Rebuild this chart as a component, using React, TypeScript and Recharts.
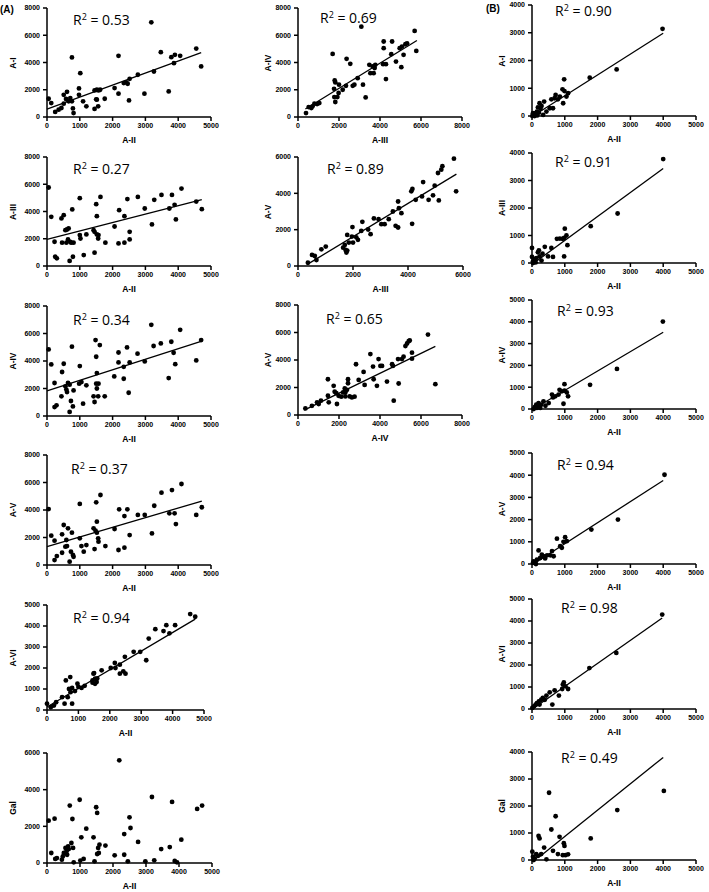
import React from "react";
import { ScatterChart, Scatter, XAxis, YAxis, ReferenceLine } from "recharts";

type Pair = [number, number];

// values, [x, y]
const aI_aII: Pair[] = [
  [50, 1340], [130, 1020], [250, 370], [355, 540], [440, 660], [510, 980], [510, 1630], [580, 1320],
  [610, 1850], [660, 1150], [710, 1390], [760, 1150], [760, 4370], [790, 630], [810, 290], [975, 2100],
  [975, 1630], [1015, 3220], [1100, 1150], [1200, 780], [1450, 590], [1450, 1950], [1500, 1300],
  [1520, 1270], [1560, 780], [1570, 1950], [1620, 2000], [1520, 2000], [1760, 1340], [2060, 2120],
  [2180, 4490], [2180, 1710], [2340, 2490], [2420, 2540], [2460, 2440], [2500, 1220], [2520, 2800],
  [2770, 3100], [2970, 1710], [3180, 6950], [3260, 3340], [3470, 4760], [3710, 1880], [3790, 4390],
  [3870, 3950], [3900, 4560], [4060, 4490], [4550, 5020], [4700, 3710],
];

const aIII_aII: Pair[] = [
  [50, 5760], [130, 3610], [230, 1780], [250, 680], [300, 560], [440, 3490], [510, 3730], [460, 1710],
  [560, 2630], [610, 2680], [660, 2760], [590, 1710], [640, 1950], [710, 1760], [740, 1710], [770, 4150],
  [810, 1710], [790, 680], [690, 370], [1000, 4980], [1000, 2270], [1020, 2020], [1120, 800], [1200, 2320],
  [1420, 2630], [1450, 2510], [1450, 980], [1500, 4540], [1520, 3660], [1520, 2320], [1560, 2020],
  [1570, 2270], [1630, 5070], [1780, 1710], [2060, 2900], [2180, 1660], [2200, 4100], [2360, 3660],
  [2360, 1710], [2450, 4910], [2520, 2510], [2520, 1950], [2770, 5070], [2980, 4220], [3200, 3050],
  [3270, 4860], [3490, 5220], [3730, 4220], [3810, 5220], [3890, 4490], [3930, 3420], [4100, 5680],
  [4550, 4730], [4720, 4170],
];

const aIV_aII: Pair[] = [
  [50, 4840], [130, 3750], [230, 2400], [230, 650], [290, 780], [440, 1430], [460, 3200], [510, 3800],
  [560, 2160], [590, 1920], [610, 1740], [640, 2400], [690, 2280], [760, 5040], [730, 1090], [790, 700],
  [690, 300], [810, 1860], [980, 2350], [1000, 3630], [1050, 2470], [1100, 900], [1200, 2230],
  [1420, 1430], [1450, 1020], [1480, 5520], [1500, 4310], [1500, 2350], [1520, 3120], [1520, 2000],
  [1560, 1430], [1570, 2350], [1610, 5160], [1760, 1430], [2050, 2880], [2180, 4620], [2180, 3900],
  [2340, 3580], [2340, 2710], [2440, 4990], [2490, 1690], [2520, 3900], [2760, 4530], [2980, 3970],
  [3180, 6630], [3250, 5090], [3470, 5280], [3710, 2760], [3790, 5400], [3860, 4600], [3910, 3770],
  [4060, 6270], [4550, 4040], [4700, 5520],
];

const aV_aII: Pair[] = [
  [50, 4070], [130, 2130], [230, 1770], [460, 2230], [510, 2910], [640, 2670], [760, 2350], [590, 1820],
  [610, 1380], [1000, 1940], [1000, 4440], [1050, 1380], [1200, 1450], [1420, 2670], [1480, 2500],
  [1500, 4560], [1520, 3150], [1520, 2350], [1560, 1940], [1570, 1700], [1630, 5090], [1780, 1380],
  [2060, 2620], [2200, 4050], [2360, 3560], [2450, 4050], [2520, 2180], [2770, 3640], [2980, 3640],
  [3200, 2300], [3270, 4310], [3490, 5260], [3730, 3760], [3810, 5450], [3890, 3760], [3930, 2980],
  [4100, 5890], [4550, 3640], [4720, 4200], [230, 360], [300, 650], [460, 890], [690, 240], [730, 970],
  [790, 730], [810, 600], [1120, 970], [1450, 1160], [2180, 1090], [2360, 1260], [560, 1330],
];

const aVI_aII: Pair[] = [
  [0, 300], [120, 130], [220, 210], [290, 370], [480, 610], [560, 300], [660, 610], [750, 850],
  [800, 300], [890, 900], [600, 1410], [740, 1570], [970, 1250], [1450, 1410], [1480, 1730],
  [1530, 1490], [1580, 1330], [1530, 1250], [700, 1000], [800, 1050], [1000, 1100], [1100, 1050],
  [1200, 1150], [1450, 1300], [1600, 1500], [1500, 1760], [1740, 1890], [2030, 2000], [2180, 2000],
  [2160, 2240], [2320, 2160], [2320, 1730], [2430, 1840], [2500, 1730], [2480, 2530], [2760, 2770],
  [2970, 2770], [3160, 2370], [3240, 3400], [3450, 3850], [3710, 3760], [3800, 4040], [3900, 3650],
  [4080, 4040], [4560, 4570], [4720, 4440],
];

const gal_aII: Pair[] = [
  [50, 2310], [130, 545], [230, 2420], [250, 220], [300, 270], [450, 180], [480, 360], [510, 545],
  [560, 820], [590, 640], [610, 450], [640, 910], [660, 760], [690, 3130], [740, 1090], [770, 2400],
  [790, 820], [810, 36], [990, 3450], [1010, 130], [1040, 1400], [1110, 220], [1190, 1870], [1410, 1400],
  [1440, 90], [1490, 3040], [1520, 2730], [1520, 490], [1550, 820], [1570, 545], [1590, 1000],
  [1770, 950], [2050, 420], [2190, 5600], [2340, 1580], [2340, 450], [2450, 90], [2500, 2490],
  [2530, 1910], [2760, 1150], [2980, 90], [3180, 3600], [3250, 145], [3460, 760], [3720, 870],
  [3790, 3330], [3870, 110], [3940, 36], [4070, 1270], [4550, 2950], [4700, 3130],
];

const aIV_aIII: Pair[] = [
  [390, 290], [520, 730], [650, 660], [710, 780], [800, 980], [930, 950], [1040, 1020], [1690, 4630],
  [1760, 2070], [1790, 2680], [1820, 2540], [1770, 1460], [1820, 1100], [1920, 1460], [1980, 1760],
  [2000, 2370], [2180, 2000], [2340, 2290], [2370, 4270], [2550, 3900], [2670, 2290], [2750, 2370],
  [2910, 2850], [3090, 6630], [3170, 2370], [3300, 1440], [3480, 3830], [3530, 3220], [3640, 3710],
  [3690, 3220], [3770, 3830], [3740, 3590], [4150, 3880], [4180, 5540], [4180, 5050], [4290, 3880],
  [4290, 2780], [4590, 5540], [4550, 4610], [4780, 4070], [4960, 5050], [5040, 3660], [5150, 4560],
  [5070, 5170], [5240, 5340], [5320, 5410], [5690, 6320], [5770, 4850],
];

const aV_aIII: Pair[] = [
  [360, 180], [510, 610], [610, 550], [670, 330], [850, 920], [1010, 1070], [1640, 1010], [1700, 1160],
  [1730, 880], [1760, 740], [1790, 850], [1790, 1710], [1850, 1290], [1960, 1620], [1980, 2140],
  [2000, 1290], [2120, 1580], [2180, 1440], [2300, 1930], [2340, 2430], [2550, 2010], [2640, 1750],
  [2760, 2620], [2930, 2580], [3030, 2300], [3150, 2300], [3300, 2580], [3450, 3000], [3550, 2210],
  [3640, 2120], [3640, 3550], [3670, 3180], [3760, 2910], [4120, 4110], [4150, 2320], [4160, 4240],
  [4280, 3640], [4550, 4620], [4750, 3640], [4910, 3890], [4510, 3830], [4970, 4420], [5090, 5120],
  [5210, 5300], [5250, 5490], [5120, 3610], [5670, 5910], [5750, 4110],
];

const aV_aIV: Pair[] = [
  [360, 480], [680, 670], [930, 920], [1120, 1040], [1010, 800], [1460, 2600], [1460, 1400], [1500, 920],
  [1740, 2120], [1790, 1690], [1870, 1590], [1900, 800], [1980, 1400], [2110, 1330], [2200, 1640],
  [2280, 1930], [2310, 1640], [2310, 1350], [2390, 1830], [2440, 2310], [2440, 2600], [2520, 1350],
  [2630, 1280], [2760, 1330], [2830, 3690], [2960, 2550], [3200, 3130], [3250, 2190], [3530, 4430],
  [3660, 3520], [3850, 2120], [3930, 4070], [4020, 3570], [4100, 3570], [3690, 2600], [4340, 2430],
  [4590, 3690], [4630, 3570], [4670, 1040], [4880, 4070], [4910, 2290], [5070, 4070], [5150, 4240],
  [5240, 5010], [5320, 5200], [5400, 5370], [5450, 5420], [5560, 4530], [5560, 4100], [6340, 5850],
  [6700, 2240],
];

const bI_bII: Pair[] = [
  [3980, 3140], [2580, 1680], [1760, 1380], [980, 1320], [930, 960], [990, 900], [1050, 700], [1100, 820],
  [950, 460], [850, 700], [790, 600], [720, 760], [690, 640], [590, 600], [540, 280], [640, 280],
  [440, 160], [370, 520], [290, 360], [230, 460], [180, 310], [150, 160], [210, 120], [110, 100],
  [60, 40], [30, 100], [10, 0], [80, 0], [340, 40], [160, 20], [260, 260],
];

const bIII_bII: Pair[] = [
  [4000, 3780], [2610, 1800], [1790, 1340], [980, 910], [1000, 1250], [1080, 650], [1050, 1000],
  [850, 890], [760, 880], [930, 880], [980, 240], [640, 220], [590, 550], [490, 240], [390, 590],
  [320, 340], [210, 460], [180, 390], [230, 240], [130, 180], [80, 120], [30, 60], [0, 550], [0, 220],
  [110, 20], [290, 90], [30, 0],
];

const bIV_bII: Pair[] = [
  [3990, 4010], [2590, 1840], [1770, 1110], [990, 1140], [990, 840], [910, 810], [840, 880], [1060, 760],
  [1100, 580], [960, 240], [810, 660], [710, 580], [610, 660], [640, 530], [510, 270], [350, 350],
  [280, 200], [200, 270], [230, 120], [130, 200], [80, 80], [50, 0], [150, 50], [250, 50], [410, 150],
];

const bV_bII: Pair[] = [
  [4040, 4020], [2620, 2000], [1810, 1550], [1010, 1210], [760, 1140], [960, 1000], [1060, 1030],
  [860, 800], [910, 730], [610, 580], [560, 390], [460, 390], [350, 350], [250, 270], [200, 610],
  [300, 420], [150, 200], [50, 120], [30, 50], [660, 350], [120, 0], [400, 250],
];

const bVI_bII: Pair[] = [
  [3970, 4290], [2570, 2550], [1750, 1860], [970, 1210], [940, 1110], [1020, 1030], [1100, 910],
  [920, 910], [820, 610], [690, 850], [620, 200], [540, 760], [440, 610], [330, 500], [280, 420],
  [210, 350], [150, 270], [110, 200], [60, 120], [10, 50], [230, 200], [390, 420],
];

const bGal_bII: Pair[] = [
  [4020, 2560], [2600, 1850], [1790, 800], [520, 2490], [720, 1620], [590, 1130], [840, 860], [640, 340],
  [790, 220], [970, 620], [990, 520], [1020, 180], [1100, 210], [940, 180], [200, 890], [230, 800],
  [370, 460], [130, 220], [180, 150], [280, 220], [30, 120], [80, 60], [10, 310], [440, 25], [50, 0],
];

// regression line end points
const fitAI: Pair[] = [[0, 580], [4700, 4720]];
const fitAIII: Pair[] = [[0, 1950], [4720, 4880]];
const fitAIV: Pair[] = [[0, 1820], [4720, 5450]];
const fitAV: Pair[] = [[0, 1330], [4720, 4650]];
const fitAVI: Pair[] = [[0, 140], [4720, 4330]];
const fitIVonIII: Pair[] = [[360, 590], [5800, 5610]];
const fitVonIII: Pair[] = [[340, 90], [5760, 5060]];
const fitVonIV: Pair[] = [[300, 350], [6700, 4990]];
const fitBI: Pair[] = [[30, 0], [4000, 2980]];
const fitBIII: Pair[] = [[60, 0], [4000, 3440]];
const fitBIV: Pair[] = [[40, 0], [4000, 3520]];
const fitBV: Pair[] = [[40, 0], [4000, 3760]];
const fitBVI: Pair[] = [[20, 0], [3970, 4140]];
const fitBGal: Pair[] = [[230, 120], [4000, 3800]];

const FONT = "'Liberation Sans', Arial, sans-serif";
const YW = 40;
const MT = 6;
const MR = 10;
const XH = 20;

const steps = (max: number, step: number) => {
  const out: number[] = [];
  for (let v = 0; v <= max; v += step) out.push(v);
  return out;
};

const Dot = (props: any) => <circle cx={props.cx} cy={props.cy} r={2.4} fill="#000" />;

interface PanelProps {
  left: number;
  top: number;
  w: number;
  h: number;
  xMax: number;
  xStep: number;
  yMax: number;
  yStep: number;
  xLabel: string;
  yLabel: string;
  pts: Pair[];
  fit?: Pair[];
  r2?: string;
  r2At?: [number, number];
  yTitleOff: number;
}

function Panel(p: PanelProps) {
  const data = p.pts.map(([x, y]) => ({ x, y }));
  const seg = p.fit ? p.fit.map(([x, y]) => ({ x, y })) : null;
  const cw = YW + p.w + MR;
  const ch = MT + p.h + XH;
  const tick = { fill: "#000", fontSize: 7, fontWeight: 700, fontFamily: FONT };
  const line = { stroke: "#000", strokeWidth: 1.5 };

  return (
    <>
      <div style={{ position: "absolute", left: p.left - YW, top: p.top - MT }}>
        <ScatterChart width={cw} height={ch} margin={{ top: MT, right: MR, bottom: 0, left: 0 }}>
          <XAxis
            type="number"
            dataKey="x"
            domain={[0, p.xMax]}
            ticks={steps(p.xMax, p.xStep)}
            interval={0}
            height={XH}
            tickSize={4}
            tickMargin={2}
            axisLine={line}
            tickLine={line}
            tick={tick}
          />
          <YAxis
            type="number"
            dataKey="y"
            domain={[0, p.yMax]}
            ticks={steps(p.yMax, p.yStep)}
            interval={0}
            width={YW}
            tickSize={4}
            tickMargin={3}
            axisLine={line}
            tickLine={line}
            tick={tick}
          />
          {seg && <ReferenceLine segment={seg} stroke="#000" strokeWidth={1.3} ifOverflow="visible" />}
          <Scatter data={data} shape={Dot} isAnimationActive={false} />
        </ScatterChart>
      </div>
      <div
        style={{
          position: "absolute", left: p.left, top: p.top + p.h + 18, width: p.w,
          textAlign: "center", font: `700 8.5px ${FONT}`, lineHeight: "10px",
        }}
      >
        {p.xLabel}
      </div>
      <div
        style={{
          position: "absolute", left: p.left - p.yTitleOff - 30, top: p.top + p.h / 2 - 5, width: 60,
          textAlign: "center", font: `700 8.5px ${FONT}`, lineHeight: "10px", transform: "rotate(-90deg)",
        }}
      >
        {p.yLabel}
      </div>
      {p.r2 && p.r2At && (
        <div
          style={{
            position: "absolute", left: p.left + p.r2At[0], top: p.top + p.r2At[1] - 2.5,
            font: "400 14px 'Open Sans', sans-serif", lineHeight: "14px", whiteSpace: "nowrap", color: "#000",
          }}
        >
          R<span style={{ fontSize: 9, position: "relative", top: -5 }}>2</span> = {p.r2}
        </div>
      )}
    </>
  );
}

export default function App() {
  const A = 47, M = 298, B = 532;
  return (
    <div style={{ position: "absolute", left: 0, top: 0, width: 709, height: 892, background: "#fff", overflow: "hidden" }}>
      <div style={{ position: "absolute", left: 0, top: 4, font: `700 10px ${FONT}` }}>(A)</div>
      <div style={{ position: "absolute", left: 486, top: 3, font: `700 10px ${FONT}` }}>(B)</div>

      <Panel left={A} top={8} w={164} h={109} xMax={5000} xStep={1000} yMax={8000} yStep={2000}
        xLabel="A-II" yLabel="A-I" pts={aI_aII} fit={fitAI} r2="0.53" r2At={[26, 7]} yTitleOff={34} />
      <Panel left={A} top={157} w={164} h={109} xMax={5000} xStep={1000} yMax={8000} yStep={2000}
        xLabel="A-II" yLabel="A-III" pts={aIII_aII} fit={fitAIII} r2="0.27" r2At={[26, 7]} yTitleOff={34} />
      <Panel left={A} top={306} w={164} h={110} xMax={5000} xStep={1000} yMax={8000} yStep={2000}
        xLabel="A-II" yLabel="A-IV" pts={aIV_aII} fit={fitAIV} r2="0.34" r2At={[26, 9]} yTitleOff={34} />
      <Panel left={A} top={455} w={164} h={110} xMax={5000} xStep={1000} yMax={8000} yStep={2000}
        xLabel="A-II" yLabel="A-V" pts={aV_aII} fit={fitAV} r2="0.37" r2At={[24, 9]} yTitleOff={34} />
      <Panel left={A} top={605} w={157} h={105} xMax={5000} xStep={1000} yMax={5000} yStep={1000}
        xLabel="A-II" yLabel="A-VI" pts={aVI_aII} fit={fitAVI} r2="0.94" r2At={[26, 8]} yTitleOff={34} />
      <Panel left={A} top={753} w={165} h={110} xMax={5000} xStep={1000} yMax={6000} yStep={2000}
        xLabel="A-II" yLabel="Gal" pts={gal_aII} yTitleOff={34} />

      <Panel left={M} top={8} w={164} h={109} xMax={8000} xStep={2000} yMax={8000} yStep={2000}
        xLabel="A-III" yLabel="A-IV" pts={aIV_aIII} fit={fitIVonIII} r2="0.69" r2At={[22, 5]} yTitleOff={30} />
      <Panel left={M} top={157} w={165} h={109} xMax={6000} xStep={2000} yMax={6000} yStep={2000}
        xLabel="A-III" yLabel="A-V" pts={aV_aIII} fit={fitVonIII} r2="0.89" r2At={[29, 7]} yTitleOff={30} />
      <Panel left={M} top={305} w={164} h={110} xMax={8000} xStep={2000} yMax={8000} yStep={2000}
        xLabel="A-IV" yLabel="A-V" pts={aV_aIV} fit={fitVonIV} r2="0.65" r2At={[28, 9]} yTitleOff={30} />

      <Panel left={B} top={5} w={164} h={111} xMax={5000} xStep={1000} yMax={4000} yStep={1000}
        xLabel="A-II" yLabel="A-I" pts={bI_bII} fit={fitBI} r2="0.90" r2At={[23, 1]} yTitleOff={30} />
      <Panel left={B} top={153} w={164} h={110} xMax={5000} xStep={1000} yMax={4000} yStep={1000}
        xLabel="A-II" yLabel="A-III" pts={bIII_bII} fit={fitBIII} r2="0.91" r2At={[23, 4]} yTitleOff={30} />
      <Panel left={B} top={300} w={164} h={109} xMax={5000} xStep={1000} yMax={5000} yStep={1000}
        xLabel="A-II" yLabel="A-IV" pts={bIV_bII} fit={fitBIV} r2="0.93" r2At={[25, 6]} yTitleOff={30} />
      <Panel left={B} top={453} w={164} h={111} xMax={5000} xStep={1000} yMax={5000} yStep={1000}
        xLabel="A-II" yLabel="A-V" pts={bV_bII} fit={fitBV} r2="0.94" r2At={[25, 7]} yTitleOff={30} />
      <Panel left={B} top={599} w={164} h={110} xMax={5000} xStep={1000} yMax={5000} yStep={1000}
        xLabel="A-II" yLabel="A-VI" pts={bVI_bII} fit={fitBVI} r2="0.98" r2At={[29, 4]} yTitleOff={30} />
      <Panel left={B} top={752} w={164} h={108} xMax={5000} xStep={1000} yMax={4000} yStep={1000}
        xLabel="A-II" yLabel="Gal" pts={bGal_bII} fit={fitBGal} r2="0.49" r2At={[29, 1]} yTitleOff={30} />
    </div>
  );
}
